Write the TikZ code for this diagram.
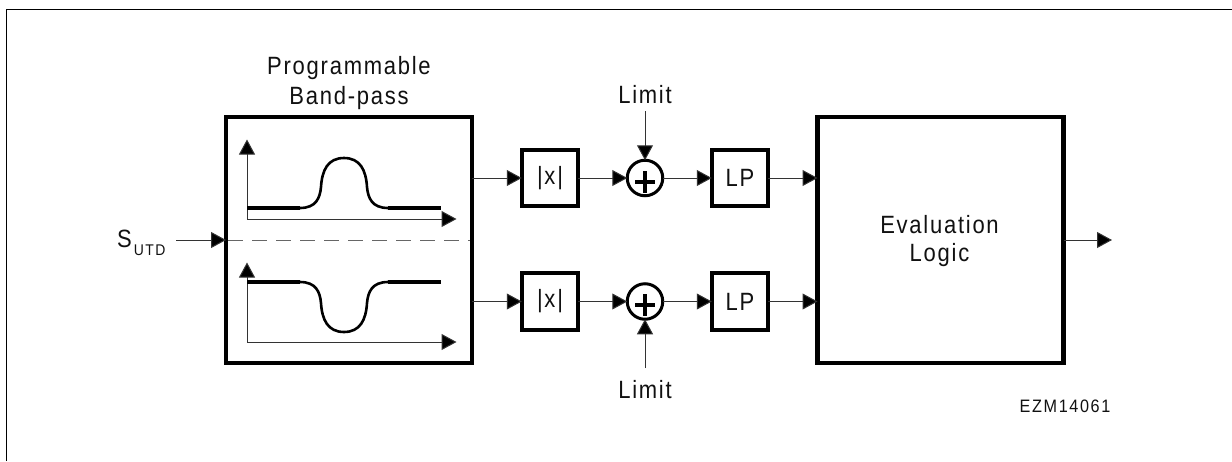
\documentclass[tikz,border=0pt]{standalone}
\usepackage{fontspec}
\setmainfont{Liberation Sans}[FakeStretch=0.88,LetterSpace=7]
\newfontfamily\smallfam{Liberation Sans}[FakeStretch=0.9,LetterSpace=9]
\usetikzlibrary{arrows.meta}
\definecolor{ink}{HTML}{111111}
\definecolor{wire}{HTML}{333333}
\definecolor{dashgray}{HTML}{666666}
\tikzset{
  bigbox/.style={rectangle,draw=black,line width=4.2pt,minimum width=246pt,minimum height=246pt,inner sep=0pt,outer sep=0pt,text=ink,align=center,font=\fontsize{25}{28}\selectfont},
  smallbox/.style={rectangle,draw=black,line width=3.7pt,minimum width=56.5pt,minimum height=56.5pt,inner sep=0pt,outer sep=0pt,text=ink,font=\fontsize{25}{28}\selectfont},
  summer/.style={circle,draw=black,line width=3pt,minimum size=35.5pt,inner sep=0pt,outer sep=0pt},
  lbl/.style={inner sep=0pt,text=ink,align=center,font=\fontsize{25}{30}\selectfont},
  wired/.style={draw=wire,line width=1pt,-{Triangle[length=15pt,width=16pt,fill=black]}},
  axisline/.style={draw=wire,line width=1pt,-{Triangle[length=15pt,width=16pt,fill=black]}},
  flatline/.style={draw=black,line width=3.4pt},
  bendline/.style={draw=black,line width=2.6pt},
  plussign/.style={draw=black,line width=3.4pt},
}
\begin{document}
\begin{tikzpicture}[x=1pt,y=-1pt]
\useasboundingbox (0,0) rectangle (1232,461);
\fill[white] (0,0) rectangle (1232,461);
\draw[black,line width=1pt] (6.5,461) -- (6.5,9) -- (1232,9);

% blocks
\node[bigbox] (bp) at (349,240) {};
\node[bigbox] (eval) at (940.5,240) {};
\node[lbl,anchor=base,font=\fontsize{25}{28}\selectfont] (evaltext) at (939.5,261) {Evaluation\\Logic};
\node[smallbox] (abs1) at (550,178) {|x|};
\node[smallbox] (abs2) at (550,301.5) {|x|};
\node[smallbox] (lp1) at (740,178) {LP};
\node[smallbox] (lp2) at (740,301.5) {LP};
\node[summer] (sum1) at (645,178) {};
\node[summer] (sum2) at (645,301.5) {};

% texts
\node[lbl,anchor=base] (title) at (349,104) {Programmable\\Band-pass};
\node[lbl,anchor=base] (lim1) at (645,103) {Limit};
\node[lbl,anchor=base] (lim2) at (645,398) {Limit};
\node[lbl,anchor=base west] (sutd) at (117,247) {S\raisebox{-8pt}{\hspace{2pt}\smallfam\fontsize{15.5}{16}\selectfont UTD}};
\node[inner sep=0pt,text=ink,anchor=base,font=\smallfam\fontsize{18}{20}\selectfont] (code) at (1065,412) {EZM14061};

% free ends
\coordinate (inS) at (176,240);
\coordinate (outE) at (1112,240);
\coordinate (limT) at (645,111);
\coordinate (limB) at (645,368);

% connectors
\draw[wired] (inS) -- (bp.west |- inS);
\draw[dashgray,line width=1pt,dash pattern=on 15pt off 9pt] (bp.west |- inS) ++(2,0) -- (470,240);
\draw[wired] (bp.east |- abs1) -- (abs1);
\draw[wired] (bp.east |- abs2) -- (abs2);
\draw[wired] (abs1) -- (sum1);
\draw[wired] (abs2) -- (sum2);
\draw[wired] (sum1) -- (lp1);
\draw[wired] (sum2) -- (lp2);
\draw[wired] (lp1) -- (eval.west |- lp1);
\draw[wired] (lp2) -- (eval.west |- lp2);
\draw[wired] (eval.east |- outE) -- (outE);
\draw[wired] (limT) -- (sum1);
\draw[wired] (limB) -- (sum2);

% plus signs
\draw[plussign] (635,182) -- (655,182) (645,171) -- (645,193);
\draw[plussign] (635,305) -- (655,305) (645,294) -- (645,316);

% upper response
\draw[axisline] (247,219) -- (247,139.5);
\draw[axisline] (247,219) -- (456.5,219);
\draw[flatline] (247,208) -- (300,208);
\draw[flatline] (388,208) -- (441,208);
\draw[bendline] (300,208) .. controls (316,208) and (320,198) .. (321,187)
  .. controls (322,170) and (328,158) .. (344,158)
  .. controls (360,158) and (366,170) .. (367,187)
  .. controls (368,198) and (372,208) .. (388,208);

% lower response
\draw[axisline] (247,342) -- (247,262.5);
\draw[axisline] (247,342) -- (456.5,342);
\draw[flatline] (247,282) -- (300,282);
\draw[flatline] (388,282) -- (441,282);
\draw[bendline] (300,282) .. controls (316,282) and (320,292) .. (321,303)
  .. controls (322,320) and (328,332) .. (344,332)
  .. controls (360,332) and (366,320) .. (367,303)
  .. controls (368,292) and (372,282) .. (388,282);
\end{tikzpicture}
\end{document}
